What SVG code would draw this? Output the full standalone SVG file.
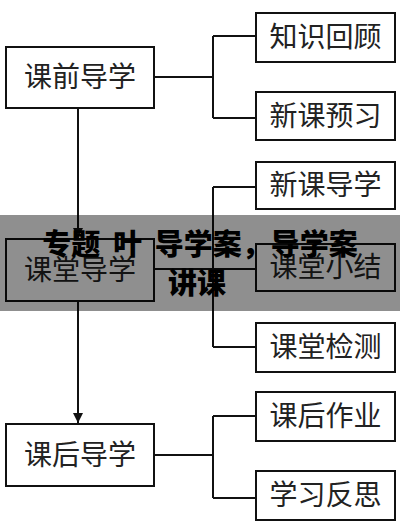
<svg xmlns="http://www.w3.org/2000/svg" width="400" height="527" viewBox="0 0 400 527">
<defs>
<style>
.box{fill:#fff;stroke:#111;stroke-width:2}
.lbl{font-family:"Noto Sans CJK SC","Noto Sans CJK JP",sans-serif;font-size:28px;fill:#222;text-anchor:middle}
.ln{fill:none;stroke:#111;stroke-width:2}
.ov{font-family:"Noto Sans CJK SC","Noto Sans CJK JP",sans-serif;font-size:29px;font-weight:900;fill:#000;text-anchor:middle}
</style>
<marker id="arr" viewBox="0 0 10 16" refX="10" refY="8" markerWidth="10" markerHeight="16" markerUnits="userSpaceOnUse" orient="auto">
<path d="M0,3 L10,8 L0,13 Z" fill="#111"/>
</marker>
</defs>
<rect width="400" height="527" fill="#fff"/>
<g id="connectors">
<path class="ln" d="M78,108 V238" marker-end="url(#arr)"/>
<path class="ln" d="M78,301 V423" marker-end="url(#arr)"/>
<path class="ln" d="M154,77 H213 M213,36 V118 M213,36 H256 M213,118 H256"/>
<path class="ln" d="M154,269 H256 M213,187 V347 M213,187 H256 M213,347 H256"/>
<path class="ln" d="M154,455 H213 M213,416 V498 M213,416 H256 M213,498 H256"/>
</g>
<g id="n1"><rect class="box" x="6" y="47" width="148" height="61"/><text class="lbl" x="80" y="87">课前导学</text></g>
<g id="n2"><rect class="box" x="6" y="239" width="148" height="62"/><text class="lbl" x="80" y="280">课堂导学</text></g>
<g id="n3"><rect class="box" x="6" y="424" width="148" height="62"/><text class="lbl" x="80" y="465">课后导学</text></g>
<g id="r1"><rect class="box" x="256" y="13" width="139" height="49"/><text class="lbl" x="325.5" y="47">知识回顾</text></g>
<g id="r2"><rect class="box" x="256" y="92" width="139" height="48"/><text class="lbl" x="325.5" y="126">新课预习</text></g>
<g id="r3"><rect class="box" x="256" y="162" width="139" height="47"/><text class="lbl" x="325.5" y="195">新课导学</text></g>
<g id="r4"><rect class="box" x="256" y="244" width="139" height="47"/><text class="lbl" x="325.5" y="277">课堂小结</text></g>
<g id="r5"><rect class="box" x="256" y="323" width="139" height="49"/><text class="lbl" x="325.5" y="357">课堂检测</text></g>
<g id="r6"><rect class="box" x="256" y="392" width="139" height="49"/><text class="lbl" x="325.5" y="426">课后作业</text></g>
<g id="r7"><rect class="box" x="256" y="471" width="139" height="49"/><text class="lbl" x="325.5" y="505">学习反思</text></g>
<g id="overlay">
<rect x="0" y="215" width="400" height="96" fill="#000" fill-opacity="0.44"/>
<text class="ov" x="200" y="255" word-spacing="6">专题 叶 导学案，导学案</text>
<text class="ov" x="197" y="294">讲课</text>
</g>
</svg>
